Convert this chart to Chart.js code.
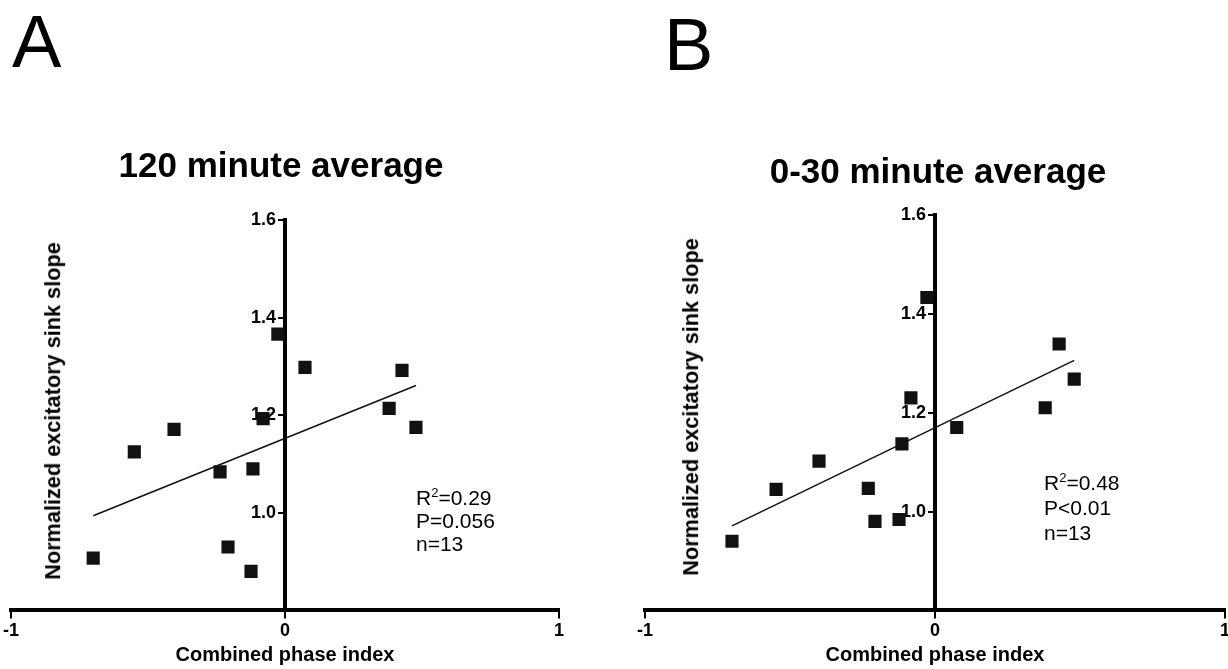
<!DOCTYPE html>
<html lang="en">
<head>
   <meta charset="UTF-8">
   <title>Combined phase index vs normalized sink slope</title>
   <script src="https://cdn.jsdelivr.net/npm/chart.js@4.4.0/dist/chart.umd.min.js"></script>
   <style>
      body { margin: 0; background: #fff; font-family: "Liberation Sans", Arial, sans-serif; }
      .figure { position: relative; width: 1228px; height: 669px; overflow: hidden; background: #fff; }
      .figure canvas { position: absolute; top: 0; }
      .txt { position: absolute; line-height: 1; white-space: nowrap; color: #000; }
      .panel { font-size: 74px; }
      .title { font-size: 35px; font-weight: bold; width: 600px; text-align: center; }
      .ytitle { font-size: 21.7px; font-weight: bold; transform: translate(-50%, -50%) rotate(-90deg); }
      .stats { font-size: 21px; }
      .stats sup { font-size: 13px; position: relative; top: -8px; vertical-align: baseline; line-height: 0; }
   </style>
</head>

<body>
   <div class="figure">
      <canvas id="chartA" width="614" height="669" style="left:0"></canvas>
      <canvas id="chartB" width="624" height="669" style="left:614px"></canvas>

      <div class="txt panel" style="left:12px;top:5px">A</div>
      <div class="txt panel" style="left:664px;top:8px">B</div>
      <div class="txt title" style="left:-19px;top:147px">120 minute average</div>
      <div class="txt title" style="left:638px;top:153px">0-30 minute average</div>
      <div class="txt ytitle" style="left:53px;top:411px">Normalized excitatory sink slope</div>
      <div class="txt ytitle" style="left:691px;top:407px">Normalized excitatory sink slope</div>
      <div class="txt stats" style="left:416px;top:486px;line-height:23px">R<sup>2</sup>=0.29<br>P=0.056<br>n=13</div>
      <div class="txt stats" style="left:1044px;top:470px;line-height:25px">R<sup>2</sup>=0.48<br>P&lt;0.01<br>n=13</div>
   </div>

   <script>
      // panel A: 120 minute average
      var phaseA = [-0.70, -0.55, -0.405, -0.237, -0.208, -0.117, -0.124, -0.08, -0.026, 0.073, 0.427, 0.38, 0.478];
      var slopeA = [0.907, 1.125, 1.171, 1.084, 0.93, 1.09, 0.88, 1.193, 1.366, 1.298, 1.292, 1.214, 1.175];
      var fitXA = [-0.70, 0.478];
      var fitYA = [0.994, 1.261];

      // panel B: 0-30 minute average
      var phaseB = [-0.70, -0.548, -0.40, -0.23, -0.207, -0.124, -0.114, -0.083, -0.028, 0.075, 0.38, 0.428, 0.48];
      var slopeB = [0.94, 1.045, 1.102, 1.047, 0.98, 0.984, 1.137, 1.23, 1.433, 1.17, 1.21, 1.339, 1.268];
      var fitXB = [-0.70, 0.48];
      var fitYB = [0.971, 1.306];

      var xTicks = [-1, 0, 1];
      var yTicks = [1.0, 1.2, 1.4, 1.6];

      Chart.defaults.font.family = '"Liberation Sans", Arial, sans-serif';
      Chart.defaults.color = '#000';

      function toPoints(xs, ys) {
         return xs.map(function (x, i) { return { x: x, y: ys[i] }; });
      }

      function makeChart(id, xs, ys, fx, fy, pad) {
         var ctx = document.getElementById(id).getContext('2d');
         return new Chart(ctx, {
            type: 'scatter',
            data: {
               datasets: [{
                  data: toPoints(xs, ys),
                  pointStyle: 'rect',
                  pointRadius: 9.3,
                  backgroundColor: '#111',
                  borderWidth: 0
               }, {
                  data: toPoints(fx, fy),
                  showLine: true,
                  borderColor: '#111',
                  borderWidth: 1.5,
                  pointRadius: 0
               }]
            },
            options: {
               responsive: false,
               animation: false,
               layout: { padding: pad },
               plugins: {
                  legend: { display: false },
                  tooltip: { enabled: false }
               },
               scales: {
                  x: {
                     type: 'linear',
                     min: -1,
                     max: 1,
                     afterBuildTicks: function (axis) {
                        axis.ticks = xTicks.map(function (v) { return { value: v }; });
                     },
                     ticks: { font: { size: 18, weight: 'bold' }, padding: 1.5 },
                     grid: { drawOnChartArea: false, tickLength: 8, color: '#000', lineWidth: 2 },
                     border: { width: 4, color: '#000' },
                     title: {
                        display: true,
                        text: 'Combined phase index',
                        font: { size: 20, weight: 'bold' },
                        padding: { top: 0, bottom: 2 }
                     }
                  },
                  y: {
                     type: 'linear',
                     min: 0.8,
                     max: 1.6,
                     position: { x: 0 },
                     afterBuildTicks: function (axis) {
                        axis.ticks = yTicks.map(function (v) { return { value: v }; });
                     },
                     ticks: {
                        font: { size: 18, weight: 'bold' },
                        // labels sit right-aligned on the axis, en space keeps them off the tick marks
                        callback: function (v) { return v.toFixed(1) + '\u2002'; }
                     },
                     grid: { drawOnChartArea: false, tickLength: 5, color: '#000', lineWidth: 2 },
                     border: { width: 4, color: '#000' }
                  }
               }
            }
         });
      }

      var chartA = makeChart('chartA', phaseA, slopeA, fitXA, fitYA, { top: 220, left: 11, right: 55, bottom: 0 });
      var chartB = makeChart('chartB', phaseB, slopeB, fitXB, fitYB, { top: 215, left: 31, right: 13, bottom: 0 });
   </script>
</body>

</html>
